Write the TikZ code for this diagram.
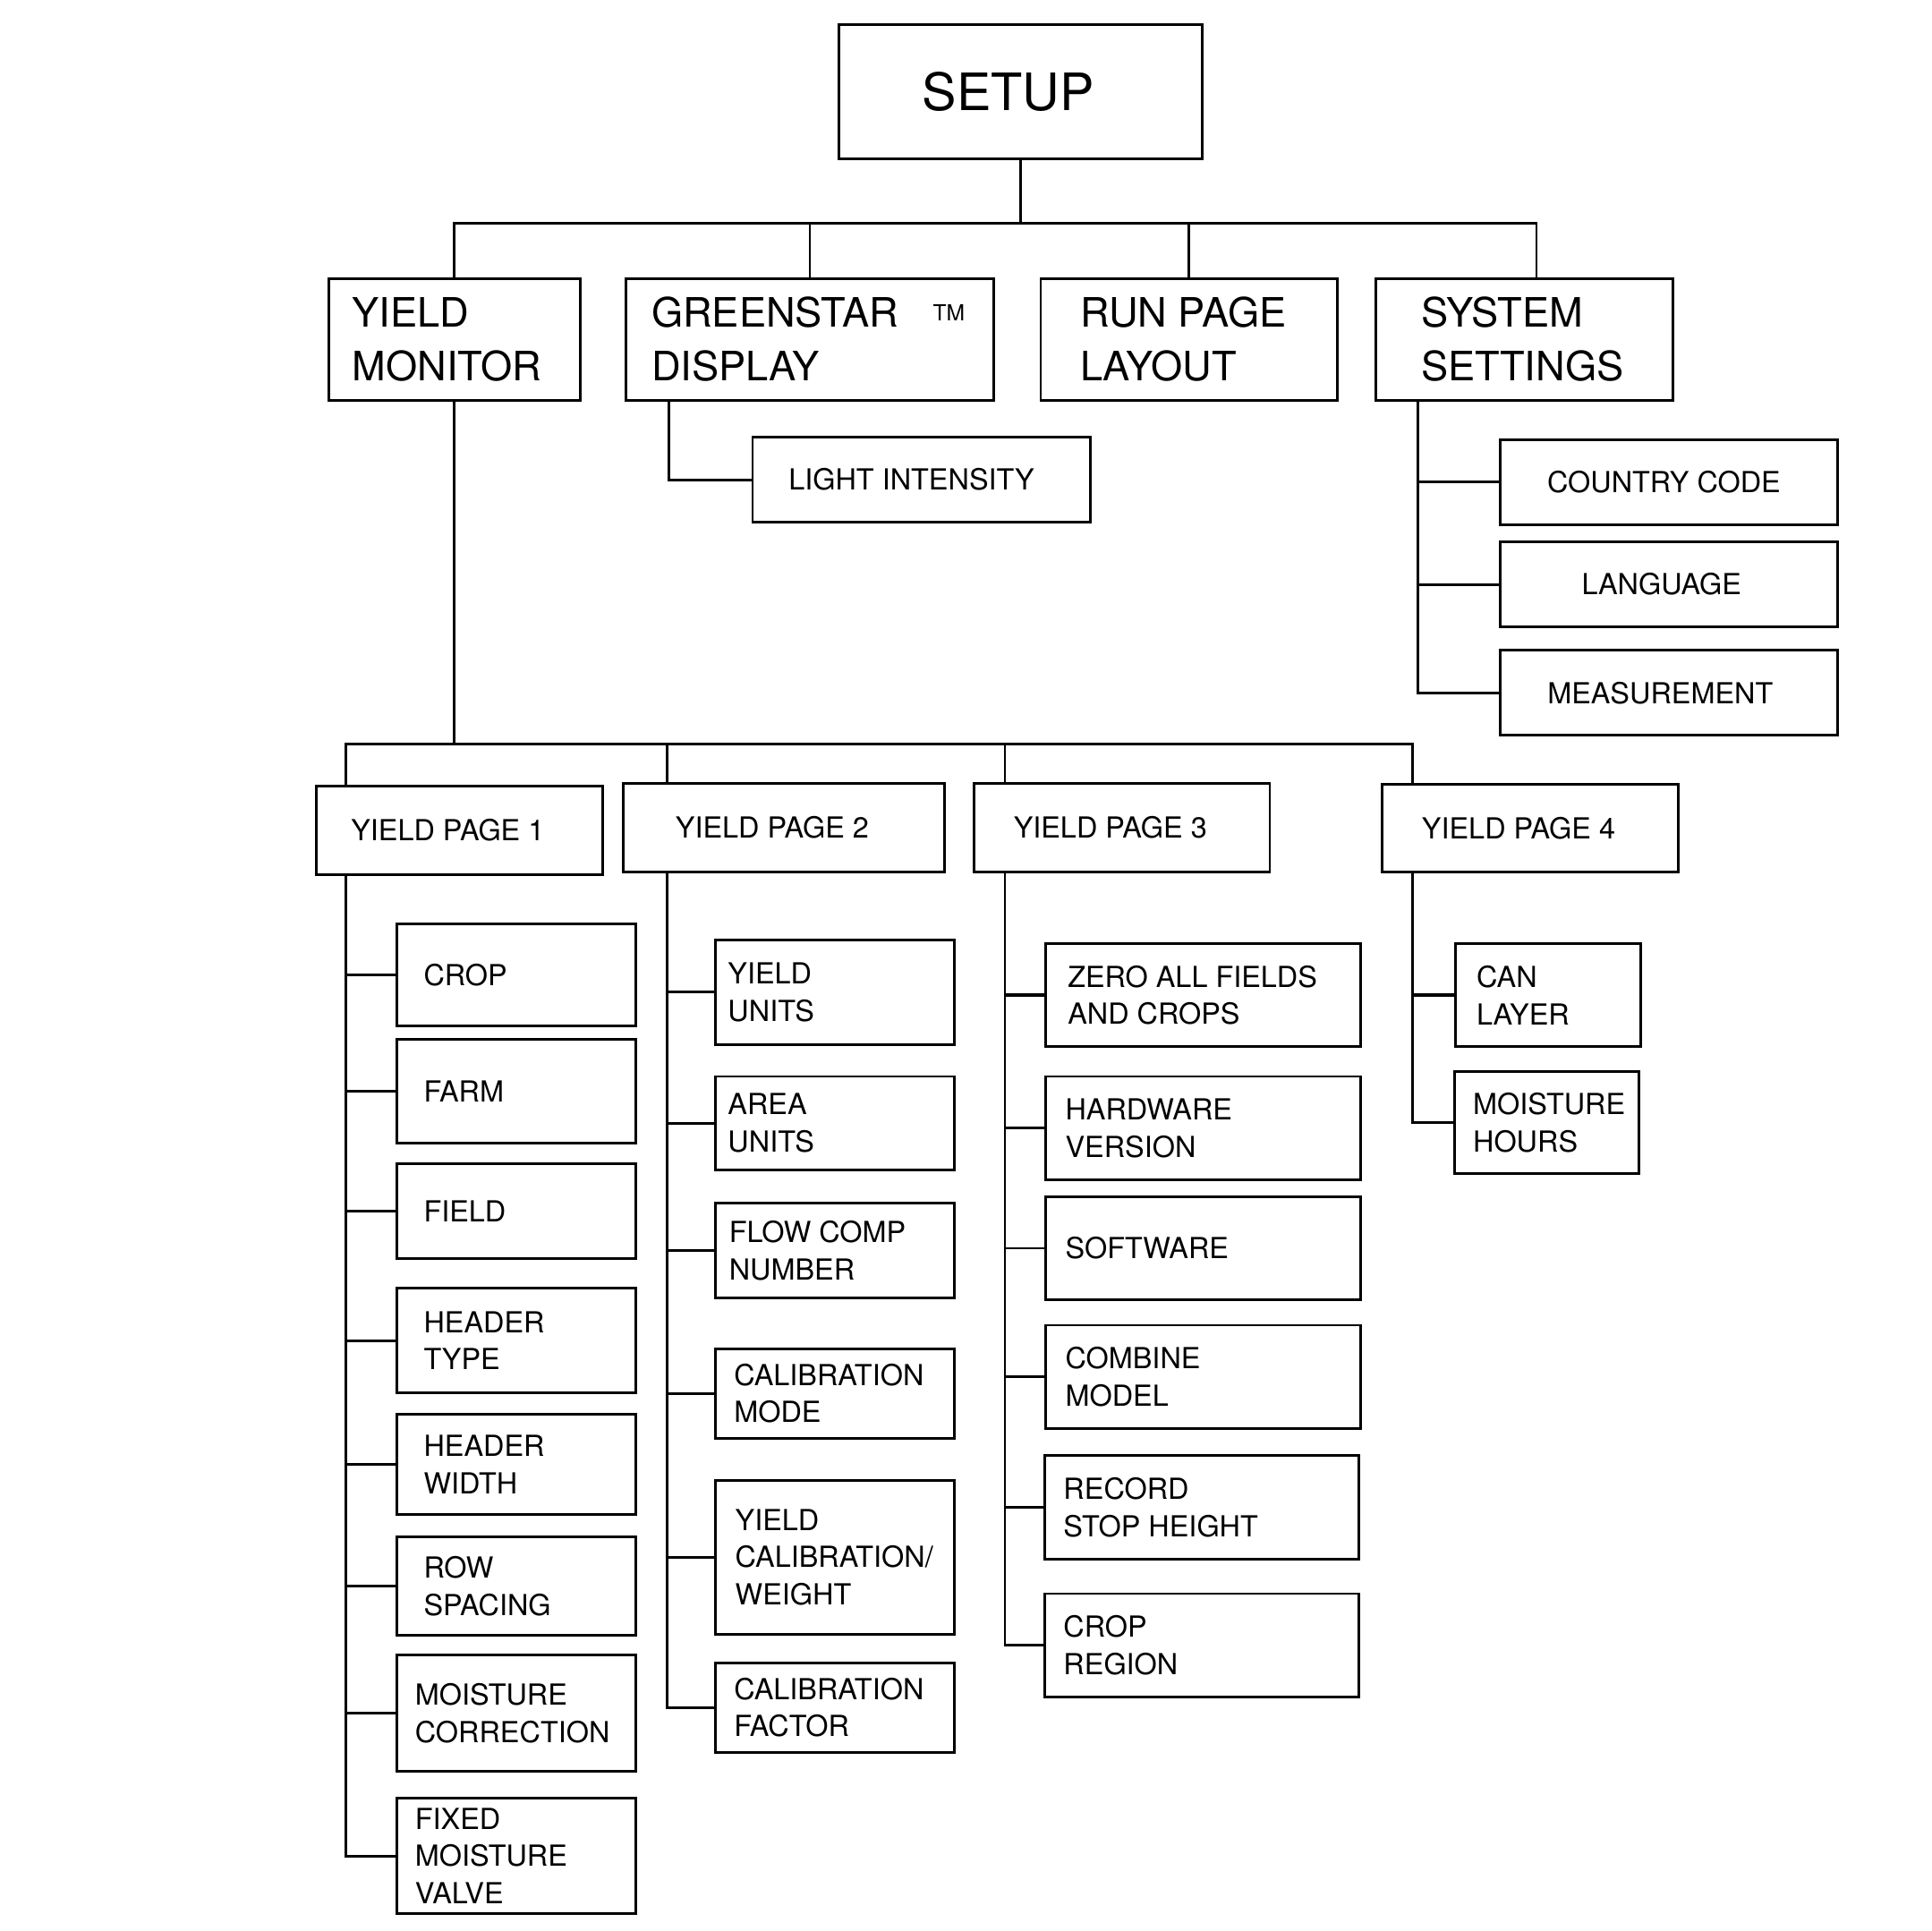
\documentclass[tikz,border=0pt]{standalone}
\usepackage{fontspec}
\setmainfont{TeX Gyre Heros}
\usetikzlibrary{calc}

\begin{document}
\begin{tikzpicture}[
    x=0.1mm, y=-0.1mm,
    box/.style={draw, line width=0.6pt, inner sep=0pt, align=flush left},
    big/.style={font=\fontsize{11.9}{14}\selectfont},
    mid/.style={font=\fontsize{9.35}{12.5}\selectfont},
    small/.style={font=\fontsize{6.7}{8.6}\selectfont},
    head/.style={box, mid, minimum height=9.9mm, anchor=north west},
    page/.style={box, small, minimum height=7.2mm, text width=17.6mm, anchor=north west},
    leaf/.style={box, small, anchor=north west},
    setleaf/.style={box, small, align=center, minimum width=27.4mm, minimum height=6.9mm, anchor=north west},
    link/.style={line width=0.6pt},
    boldlink/.style={line width=0.9pt}
  ]

    % --- Marco ---
    \useasboundingbox (0,0) rectangle (1568,1568);

    % --- Nivel 0 ---
    \node[box, big, align=center, minimum width=29.5mm, minimum height=10.9mm, anchor=north west] (setup) at (680,19) {SETUP\hspace*{2mm}};

    % --- Nivel 1 ---
    \node[head, minimum width=20.4mm, text width=16.6mm] (ym) at (266,225) {YIELD\\MONITOR};
    \node[head, minimum width=29.9mm, text width=25.7mm] (gd) at (507,225)
      {GREENSTAR\hspace{8pt}\raisebox{1.5pt}{\fontsize{5.1}{6}\selectfont TM}\\DISPLAY};
    \node[head, minimum width=24.1mm, text width=17.7mm] (rpl) at (844,225) {RUN PAGE\\LAYOUT};
    \node[head, minimum width=24.1mm, text width=16.7mm] (ss) at (1116,225) {SYSTEM\\SETTINGS};

    \node[setleaf] (li) at (610,354) {LIGHT INTENSITY\hspace*{1.6mm}};
    \node[setleaf] (cc) at (1217,356) {COUNTRY CODE\hspace*{0.8mm}};
    \node[setleaf] (lang) at (1217,439) {LANGUAGE\hspace*{1.2mm}};
    \node[setleaf] (meas) at (1217,527) {MEASUREMENT\hspace*{1.4mm}};

    % --- Paginas de rendimiento ---
    \node[page, minimum width=23.2mm] (yp1) at (256,637) {YIELD PAGE 1};
    \node[page, minimum width=26.1mm] (yp2) at (505,635) {YIELD PAGE 2};
    \node[page, minimum width=24.0mm] (yp3) at (790,635) {YIELD PAGE 3};
    \node[page, minimum width=24.1mm, minimum height=7.1mm] (yp4) at (1121,636) {YIELD PAGE 4};

    % Columna 1
    \begin{scope}[every node/.style={leaf, minimum width=19.4mm, text width=15mm}]
      \node[minimum height=8.3mm] (crop) at (321,749) {CROP};
      \node[minimum height=8.4mm] (farm) at (321,843) {FARM};
      \node[minimum height=7.7mm] (field) at (321,944) {FIELD};
      \node[minimum height=8.5mm] (htype) at (321,1045) {HEADER\\TYPE};
      \node[minimum height=8.2mm] (hwidth) at (321,1147) {HEADER\\WIDTH};
      \node[minimum height=8.0mm] (rowsp) at (321,1247) {ROW\\SPACING};
      \node[minimum height=9.4mm, text width=16.4mm] (mcorr) at (321,1343) {MOISTURE\\CORRECTION};
      \node[minimum height=9.4mm, text width=16.4mm] (fixed) at (321,1459) {FIXED\\MOISTURE\\VALVE};
    \end{scope}

    % Columna 2
    \begin{scope}[every node/.style={leaf, minimum width=19.4mm, text width=17.4mm}]
      \node[minimum height=8.5mm] (yunits) at (580,762) {YIELD\\UNITS};
      \node[minimum height=7.6mm] (aunits) at (580,873) {AREA\\UNITS};
      \node[minimum height=7.7mm, text width=17.2mm] (flow) at (580,976) {FLOW COMP\\NUMBER};
      \node[minimum height=7.3mm, text width=16.4mm] (calmode) at (580,1094) {CALIBRATION\\MODE};
      \node[minimum height=12.5mm, text width=16.2mm] (ycal) at (580,1201) {YIELD\\CALIBRATION/\\WEIGHT};
      \node[minimum height=7.3mm, text width=16.4mm] (calfac) at (580,1349) {CALIBRATION\\FACTOR};
    \end{scope}

    % Columna 3
    \begin{scope}[every node/.style={leaf, minimum width=25.6mm, minimum height=8.4mm, text width=22.4mm}]
      \node[text width=22mm] (zero) at (848,765) {ZERO ALL FIELDS\\AND CROPS};
      \node (hw) at (848,873) {HARDWARE\\VERSION};
      \node[minimum height=8.3mm] (sw) at (848,971) {SOFTWARE};
      \node (combine) at (848,1075) {COMBINE\\MODEL};
      \node[minimum width=25.5mm] (record) at (847,1181) {RECORD\\STOP HEIGHT};
      \node[minimum width=25.5mm] (cregion) at (847,1293) {CROP\\REGION};
    \end{scope}

    % Columna 4
    \begin{scope}[every node/.style={leaf, minimum width=15mm, minimum height=8.4mm}]
      \node[text width=11.6mm] (can) at (1181,765) {CAN\\LAYER};
      \node[text width=12mm, minimum height=8.3mm] (mhours) at (1180,869) {MOISTURE\\HOURS};
    \end{scope}

    % --- Conexiones ---
    \coordinate (bus1) at (0,181);
    \coordinate (bus2) at (0,604);
    \coordinate (sst) at ([xshift=1mm]ss.north);

    \draw[link] (setup.south) -- (setup.south |- bus1);
    \draw[link] (ym.north) -- (ym.north |- bus1) -- (sst |- bus1) -- (sst);
    \foreach \n in {gd,rpl}
      \draw[link] (\n.north) -- (\n.north |- bus1);

    \draw[link] ([xshift=3.6mm]gd.south west) |- (li.west);

    \draw[link] ([xshift=3.5mm]ss.south west) coordinate (sss) |- (meas.west);
    \foreach \n in {cc,lang}
      \draw[link] (\n.west) -- (\n.west -| sss);

    \coordinate (p1) at ([xshift=2.5mm]yp1.north west);
    \coordinate (p2) at ([xshift=3.7mm]yp2.north west);
    \coordinate (p3) at ([xshift=2.6mm]yp3.north west);
    \coordinate (p4) at ([xshift=2.6mm]yp4.north west);

    \draw[link] (ym.south) -- (ym.south |- bus2);
    \draw[link] (p1) -- (p1 |- bus2) -- (p4 |- bus2) -- (p4);
    \foreach \p in {p2,p3}
      \draw[link] (\p) -- (\p |- bus2);

    % Ramas de cada pagina
    \draw[link] (p1 |- yp1.south) |- (fixed.west);
    \foreach \n in {crop,farm,field,htype,hwidth,rowsp,mcorr}
      \draw[link] (\n.west) -- (\n.west -| p1);

    \draw[link] (p2 |- yp2.south) |- (calfac.west);
    \foreach \n in {yunits,aunits,flow,calmode,ycal}
      \draw[link] (\n.west) -- (\n.west -| p2);

    \draw[link] (p3 |- yp3.south) |- (cregion.west);
    \foreach \n in {hw,sw,combine,record}
      \draw[link] (\n.west) -- (\n.west -| p3);
    \draw[boldlink] (zero.west) -- (zero.west -| p3);

    \draw[link] (p4 |- yp4.south) |- (mhours.west);
    \draw[boldlink] (can.west) -- (can.west -| p4);

  \end{tikzpicture}
\end{document}
